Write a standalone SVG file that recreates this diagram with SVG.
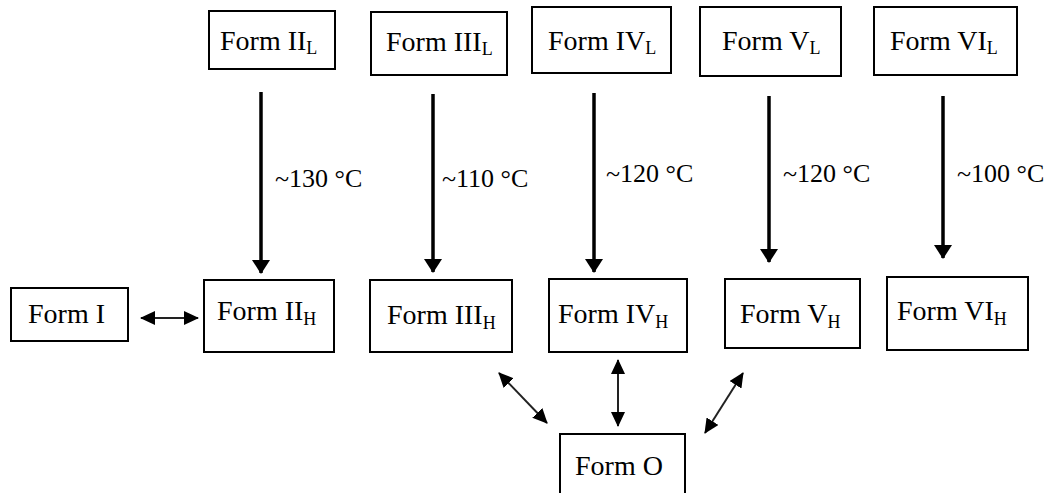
<svg xmlns="http://www.w3.org/2000/svg" width="1050" height="493" viewBox="0 0 1050 493">
<style>
.box{fill:#fff;stroke:#000;stroke-width:2}
.t{font-family:"Liberation Serif","Times New Roman",serif;font-size:28px;fill:#000}
.s{font-size:18px}
.lbl{font-family:"Liberation Serif","Times New Roman",serif;font-size:26px;fill:#000}
.thick{stroke:#000;stroke-width:3.5;fill:none}
.thin{stroke:#222;stroke-width:2;fill:none}
</style>
<defs>
<marker id="hd" markerUnits="userSpaceOnUse" viewBox="0 0 14 18" markerWidth="14" markerHeight="18" refX="13" refY="9" orient="auto">
<path d="M0,0 L14,9 L0,18 z" fill="#000"/>
</marker>
<marker id="hs" markerUnits="userSpaceOnUse" viewBox="0 0 15 14" markerWidth="15" markerHeight="14" refX="14" refY="7" orient="auto-start-reverse">
<path d="M0,0 L15,7 L0,14 z" fill="#000"/>
</marker>
</defs>
<rect width="1050" height="493" fill="#fff"/>

<g id="formIIL"><rect class="box" x="209" y="11" width="126" height="58"/><text class="t" x="220" y="50">Form II<tspan class="s" dy="4">L</tspan></text></g>
<g id="formIIIL"><rect class="box" x="371" y="12" width="136" height="63"/><text class="t" x="386" y="51">Form III<tspan class="s" dy="4">L</tspan></text></g>
<g id="formIVL"><rect class="box" x="532" y="7" width="139" height="66"/><text class="t" x="548" y="50">Form IV<tspan class="s" dy="4">L</tspan></text></g>
<g id="formVL"><rect class="box" x="700" y="7" width="141" height="69"/><text class="t" x="722" y="50">Form V<tspan class="s" dy="4">L</tspan></text></g>
<g id="formVIL"><rect class="box" x="874" y="7" width="143" height="68"/><text class="t" x="890" y="50">Form VI<tspan class="s" dy="4">L</tspan></text></g>

<g id="formI"><rect class="box" x="11" y="288" width="117" height="53"/><text class="t" x="28" y="323">Form I</text></g>
<g id="formIIH"><rect class="box" x="204" y="280" width="130" height="72"/><text class="t" x="217" y="320">Form II<tspan class="s" dy="5">H</tspan></text></g>
<g id="formIIIH"><rect class="box" x="370" y="280" width="142" height="72"/><text class="t" x="387" y="324">Form III<tspan class="s" dy="5">H</tspan></text></g>
<g id="formIVH"><rect class="box" x="549" y="279" width="138" height="73"/><text class="t" x="558" y="323">Form IV<tspan class="s" dy="5">H</tspan></text></g>
<g id="formVH"><rect class="box" x="725" y="279" width="135" height="69"/><text class="t" x="740" y="323">Form V<tspan class="s" dy="5">H</tspan></text></g>
<g id="formVIH"><rect class="box" x="887" y="277" width="141" height="73"/><text class="t" x="897" y="320">Form VI<tspan class="s" dy="5">H</tspan></text></g>
<g id="formO"><rect class="box" x="560" y="434" width="125" height="70"/><text class="t" x="575" y="475">Form O</text></g>

<g id="connectors">
<line class="thick" x1="261" y1="92" x2="261" y2="273" marker-end="url(#hd)"/>
<line class="thick" x1="433" y1="94" x2="433" y2="272" marker-end="url(#hd)"/>
<line class="thick" x1="594" y1="93" x2="594" y2="272" marker-end="url(#hd)"/>
<line class="thick" x1="769" y1="96" x2="769" y2="262" marker-end="url(#hd)"/>
<line class="thick" x1="943" y1="96" x2="943" y2="258" marker-end="url(#hd)"/>
<line class="thin" x1="141" y1="318" x2="198" y2="318" marker-start="url(#hs)" marker-end="url(#hs)"/>
<line class="thin" x1="499" y1="373" x2="547" y2="423" marker-start="url(#hs)" marker-end="url(#hs)"/>
<line class="thin" x1="618" y1="360" x2="618" y2="426" marker-start="url(#hs)" marker-end="url(#hs)"/>
<line class="thin" x1="743" y1="373" x2="705" y2="433" marker-start="url(#hs)" marker-end="url(#hs)"/>
<text class="lbl" x="275" y="187">~130 °C</text>
<text class="lbl" x="442" y="187">~110 °C</text>
<text class="lbl" x="606" y="182">~120 °C</text>
<text class="lbl" x="783" y="182">~120 °C</text>
<text class="lbl" x="957" y="182">~100 °C</text>
</g>
</svg>
